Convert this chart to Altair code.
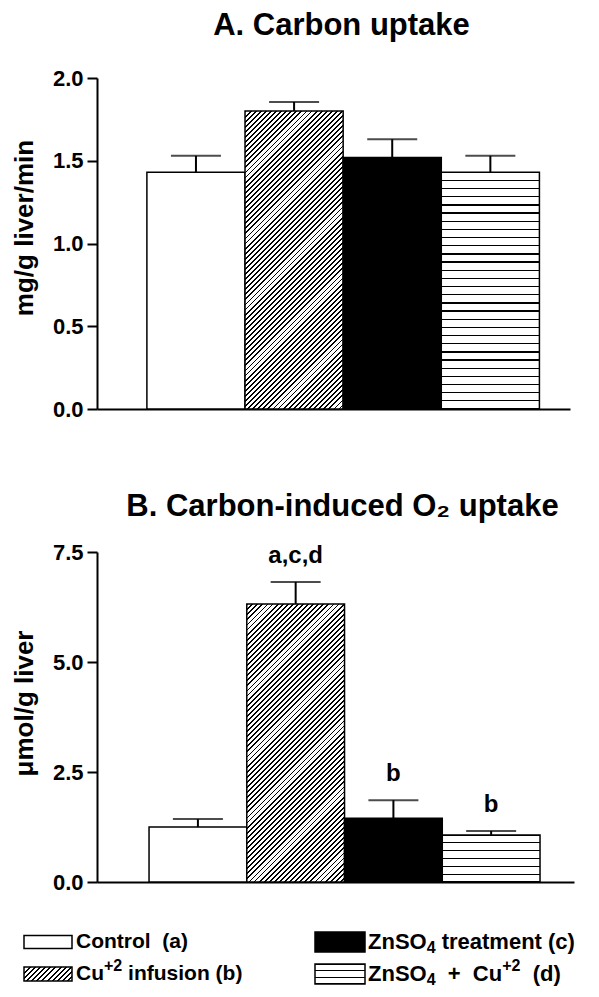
import math
import altair as alt
import pandas as pd

# ---------------- data ----------------
keys = ["ctrl", "cu", "zn", "zncu"]
carbon_mean = [1.43, 1.80, 1.52, 1.43]
carbon_err = [0.10, 0.055, 0.11, 0.10]
o2_mean = [1.25, 6.32, 1.45, 1.07]
o2_err = [0.18, 0.50, 0.41, 0.09]
o2_letters = ["", "a,c,d", "b", "b"]
carbon_ticks = [0.0, 0.5, 1.0, 1.5, 2.0]
o2_ticks = [0.0, 2.5, 5.0, 7.5]
legend_col = [0, 0, 1, 1]
legend_row = [0, 1, 0, 1]
# legend label text, split in (text, kind) pieces: n = normal, sup, sub
legend_parts = {
    "ctrl": [("Control  (a)", "n")],
    "cu": [("Cu", "n"), ("+2", "sup"), (" infusion (b)", "n")],
    "zn": [("ZnSO", "n"), ("4", "sub"), (" treatment (c)", "n")],
    "zncu": [("ZnSO", "n"), ("4", "sub"), ("  +  Cu", "n"), ("+2", "sup"), ("  (d)", "n")],
}

FONT = "Liberation Sans"
# Arial/Liberation Sans Bold advance widths (per 1000 em), for piecing text together
ADV = {' ': 278, '\u00a0': 278, '(': 333, ')': 333, '+': 584, '2': 556, '4': 556,
       'C': 722, 'O': 778, 'S': 667, 'Z': 611, 'a': 556, 'b': 611, 'c': 556, 'd': 611,
       'e': 556, 'f': 333, 'i': 278, 'l': 278, 'm': 889, 'n': 611, 'o': 611, 'r': 389,
       's': 556, 't': 333, 'u': 611}


def text_w(t, size):
    return sum(ADV.get(ch, 556) for ch in t) * size / 1000.0


# ---------------- pattern fills (styles) ----------------
def hatch(w, h, period=3.6, line=1.3, angle=45):
    th = math.radians(angle)
    s, c = math.sin(th), math.cos(th)
    span = w * s + h * c
    k = span / ((w * s) ** 2 + (h * c) ** 2)
    n = max(1, round(span / period))
    f = line / (span / n)
    stops = []
    for i in range(n):
        a = i / n
        b = (i + f) / n
        stops += [{"offset": a, "color": "white"}, {"offset": a, "color": "black"},
                  {"offset": b, "color": "black"}, {"offset": b, "color": "white"}]
    stops.append({"offset": 1, "color": "white"})
    return {"gradient": "linear", "x1": 0, "y1": 0, "x2": w * s * k, "y2": h * c * k,
            "stops": stops}


def stripes(h, period=8.3, line=1.3):
    n = max(1, round(h / period))
    f = line / (h / n) / 2
    stops = []
    for i in range(n + 1):
        a = max(0.0, (i - f) / n) if i > 0 else 0.0
        b = min(1.0, (i + f) / n)
        stops += [{"offset": a, "color": "white"}, {"offset": a, "color": "black"},
                  {"offset": b, "color": "black"}, {"offset": b, "color": "white"}]
    return {"gradient": "linear", "x1": 0, "y1": 0, "x2": 0, "y2": 1, "stops": stops}


def panel(means, errs, letters, ymax, ticks, ytitle, title, width, height,
          pad_outer, align, title_offset, title_dx, ytitle_shift):
    df = pd.DataFrame({
        "key": keys, "mean": means, "err": errs,
        "top": [m + e for m, e in zip(means, errs)],
        "letter": letters,
    })
    step = width / (4 + 2 * pad_outer)
    px = height / ymax
    xenc = alt.X("key:N", sort=keys,
                 scale=alt.Scale(paddingInner=0, paddingOuter=pad_outer, align=align),
                 axis=alt.Axis(labels=False, ticks=False, title=None,
                               domainColor="black", domainWidth=2))
    yscale = alt.Scale(domain=[0, ymax], nice=False, zero=True)
    yaxis = alt.Axis(values=ticks, format=".1f", title=ytitle, grid=False,
                     labelFont=FONT, labelFontSize=22, labelFontWeight="bold",
                     labelColor="black", labelPadding=4,
                     tickColor="black", tickWidth=2, tickSize=10,
                     domainColor="black", domainWidth=2,
                     titleFont=FONT, titleFontSize=26, titleFontWeight="bold",
                     titleColor="black", titlePadding=15,
                     titleY=height / 2 - ytitle_shift)
    base = alt.Chart(df)
    err = base.mark_rule(color="black", strokeWidth=2).encode(
        x=xenc, y=alt.Y("mean:Q", scale=yscale, axis=yaxis), y2="top:Q")
    cap = base.mark_tick(color="black", thickness=2, size=50, orient="horizontal").encode(
        x=xenc, y=alt.Y("top:Q", scale=yscale))
    m = dict(zip(keys, means))
    fills = {
        "ctrl": "white",
        "cu": hatch(step, m["cu"] * px),
        "zn": "black",
        "zncu": stripes(m["zncu"] * px),
    }
    bars = []
    for k in keys:
        bars.append(
            base.transform_filter(alt.datum.key == k)
            .mark_bar(fill=fills[k], stroke="black", strokeWidth=1.5)
            .encode(x=xenc, y=alt.Y("mean:Q", scale=yscale))
        )
    txt = base.mark_text(font=FONT, fontSize=24, fontWeight="bold", color="black",
                         baseline="bottom", dy=-14).encode(
        x=xenc, y=alt.Y("top:Q", scale=yscale), text="letter:N")
    return alt.layer(err, cap, *bars, txt).properties(
        width=width, height=height,
        title=alt.TitleParams(title, font=FONT, fontSize=31, fontWeight="bold",
                              color="black", anchor="middle", baseline="bottom",
                              offset=title_offset, dx=title_dx),
    )


pa = panel(carbon_mean, carbon_err, ["", "", "", ""], 2.0, carbon_ticks,
           "mg/g liver/min", "A. Carbon uptake", 473, 331, 0.41, 0.62, -9, 8, 16)
pb = panel(o2_mean, o2_err, o2_letters, 7.5, o2_ticks,
           "\u03bcmol/g liver", "B. Carbon-induced O\u2082 uptake", 477, 330, 0.44, 0.605, -13, 7, 14)

# ---------------- legend ----------------
ldf = pd.DataFrame({"key": keys, "col": legend_col, "row": legend_row})
lx = alt.X("col:O", scale=alt.Scale(type="point", range=[-49, 243], padding=0), axis=None)
ly = alt.Y("row:O", scale=alt.Scale(type="point", range=[28, 60], padding=0), axis=None)
lbase = alt.Chart(ldf)
sw_size = {"ctrl": (48, 13), "cu": (48, 14), "zn": (50, 20), "zncu": (50, 20)}
sw_fill = {"ctrl": "white", "cu": hatch(48, 14), "zn": "black", "zncu": stripes(20, period=6.7)}
lfont = {"ctrl": 21, "cu": 21, "zn": 22, "zncu": 22}
layers = []
for k in keys:
    w, h = sw_size[k]
    layers.append(
        lbase.transform_filter(alt.datum.key == k)
        .mark_rect(width=w, height=h, fill=sw_fill[k], stroke="black", strokeWidth=1.5)
        .encode(x=lx, y=ly)
    )
for k in keys:
    fs = lfont[k]
    pos = 28.0
    for text, kind in legend_parts[k]:
        size = fs if kind == "n" else round(fs * 0.75)
        lead = len(text) - len(text.lstrip(" "))
        trail = len(text) - len(text.rstrip(" "))
        pos += text_w(" " * lead, size)
        body = text.strip(" ").replace(" ", "\u00a0")
        dy = 0 if kind == "n" else (-8 if kind == "sup" else 6)
        layers.append(
            lbase.transform_filter(alt.datum.key == k)
            .transform_calculate(piece=f"'{body}'")
            .mark_text(font=FONT, fontSize=size, fontWeight="bold", color="black",
                       align="left", baseline="middle", dx=pos, dy=dy)
            .encode(x=lx, y=ly, text="piece:N")
        )
        pos += text_w(body, size) + text_w(" " * trail, size)
legend = alt.layer(*layers).properties(width=473, height=70)

chart = alt.vconcat(alt.vconcat(pa, pb, spacing=71), legend, spacing=21).properties(
    padding={"left": 3, "top": 1, "right": 5, "bottom": 5},
    background="white",
).configure_view(stroke=None)

chart.save("out.html", embed_options={"renderer": "svg", "actions": False})
